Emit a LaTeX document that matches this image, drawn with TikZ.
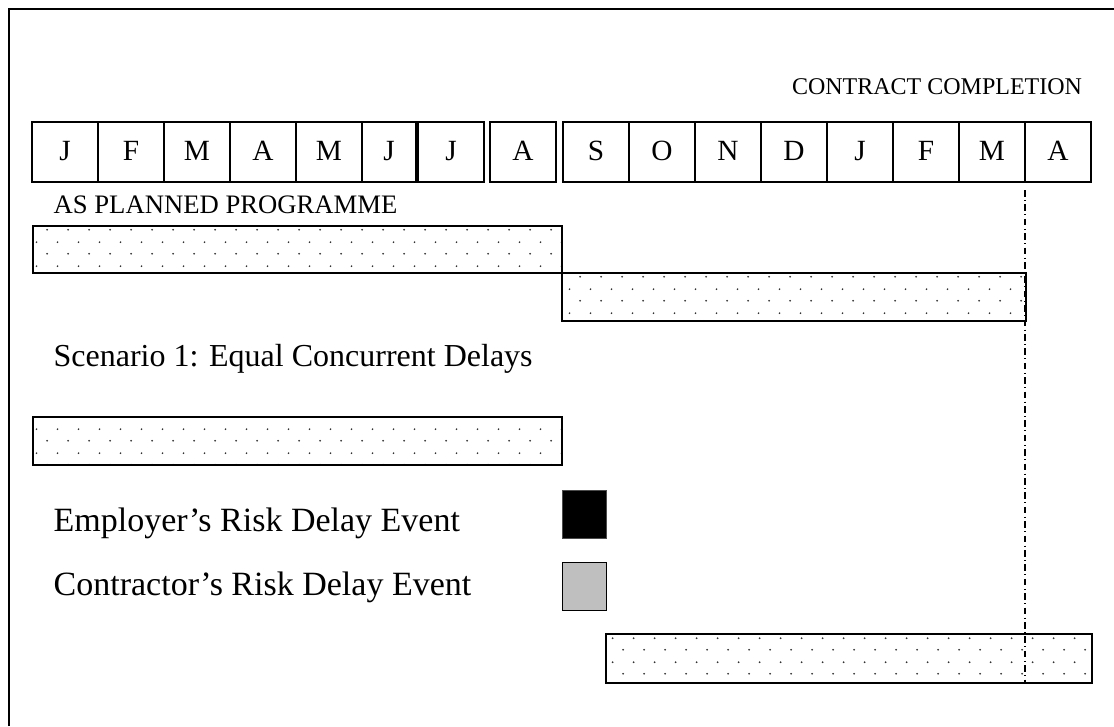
\documentclass[tikz,border=0pt]{standalone}
\usepackage{fontspec}
\setmainfont{Liberation Serif}
\usetikzlibrary{positioning}
\usetikzlibrary{patterns}

\pgfdeclarepatternformonly{bardots}{\pgfpointorigin}{\pgfpoint{16pt}{17.5pt}}{\pgfpoint{16pt}{17.5pt}}{%
  \pgfpathcircle{\pgfpoint{4pt}{4pt}}{0.75pt}%
  \pgfpathcircle{\pgfpoint{12pt}{12.75pt}}{0.75pt}%
  \pgfusepath{fill}}

\begin{document}
\begin{tikzpicture}[x=0.75pt, y=-0.75pt, line width=1pt,
    month/.style={rectangle, draw=black, minimum width=49.5pt, minimum height=45pt, inner sep=0pt, outer sep=0pt, text height=1.3em, text depth=0pt, font=\fontsize{22}{26}\selectfont},
    bar/.style={rectangle, draw=black, pattern=bardots, pattern color=black!80, inner sep=0pt, outer sep=0pt, anchor=north west},
    keybox/.style={rectangle, minimum width=33pt, minimum height=36pt, inner sep=0pt, anchor=north west},
    bigtext/.style={anchor=base west, inner sep=0pt, font=\fontsize{24}{28}\selectfont}]
    \useasboundingbox (0,0) rectangle (1114,726);
    \draw (9,726) -- (9,9) -- (1114,9);

    \node[inner sep=0pt, font=\fontsize{18}{22}\selectfont] (completion) at (937,87) {CONTRACT COMPLETION};

    \node[month] (jan) at (65,152) {J};
    \node[month, right=0pt of jan] (feb) {F};
    \node[month, right=0pt of feb] (mar) {M};
    \node[month, right=0pt of mar] (apr) {A};
    \node[month, right=0pt of apr] (may) {M};
    \node[month, minimum width=40.5pt, right=0pt of may] (jun) {J};
    \node[month, right=1.5pt of jun] (jul) {J};
    \node[month, right=4.5pt of jul] (aug) {A};
    \node[month, right=5.25pt of aug] (sep) {S};
    \node[month, right=0pt of sep] (oct) {O};
    \node[month, right=0pt of oct] (nov) {N};
    \node[month, right=0pt of nov] (dec) {D};
    \node[month, right=0pt of dec] (jannext) {J};
    \node[month, right=0pt of jannext] (febnext) {F};
    \node[month, right=0pt of febnext] (marnext) {M};
    \node[month, right=0pt of marnext] (aprnext) {A};

    \node[anchor=base west, inner sep=0pt, font=\fontsize{20}{24}\selectfont] (planned) at (53,213) {AS PLANNED PROGRAMME};
    \node[bar, minimum width=396.75pt, minimum height=35.25pt] (plan1) at (33,226) {};
    \node[bar, minimum width=348pt, minimum height=36pt] (plan2) at (plan1.south east) {};

    \node[bigtext] (scenario) at (53,366) {Scenario 1: Equal Concurrent Delays};
    \node[bar, minimum width=396.75pt, minimum height=36pt] (conc1) at (33,417) {};

    \node[bigtext, font=\fontsize{25.5}{30}\selectfont] (employer) at (53,531) {Employer’s Risk Delay Event};
    \node[keybox, fill=black, draw=black!70] (empkey) at (562,490) {};
    \node[bigtext, font=\fontsize{25.5}{30}\selectfont] (contractor) at (53,595) {Contractor’s Risk Delay Event};
    \node[keybox, fill=black!25, draw=black] (conkey) at (562,562) {};

    \node[bar, minimum width=364.5pt, minimum height=36.75pt] (conc2) at (606,634) {};

    \coordinate (cutend) at (conc2.south -| aprnext.west);
    \draw[line width=0.8pt, dash pattern=on 5pt off 2.5pt on 0.8pt off 2.5pt] ([yshift=-6pt]aprnext.south west) -- (cutend);
\end{tikzpicture}
\end{document}
